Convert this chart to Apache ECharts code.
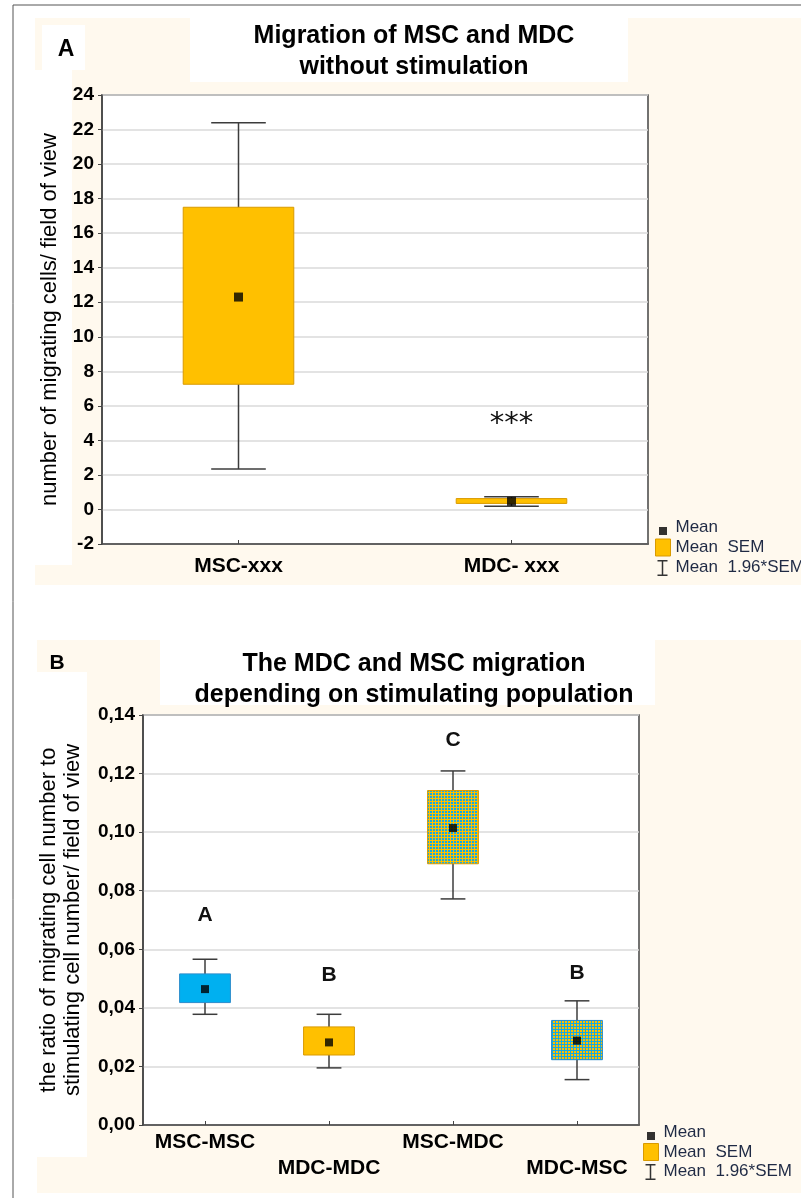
<!DOCTYPE html>
<html><head><meta charset="utf-8">
<script src="https://cdn.jsdelivr.net/npm/echarts@6/dist/echarts.min.js"></script>
<style>html,body{margin:0;padding:0;background:#fff}#c{width:801px;height:1198px}</style>
</head><body><div id="c"></div>
<script>
// ---------- Panel A data ----------
const categoriesA = ['MSC-xxx', 'MDC- xxx'];
const meanA    = [12.3, 0.47];
const semLowA  = [7.25, 0.35];
const semHighA = [17.5, 0.63];
const ciLowA   = [2.35, 0.18];
const ciHighA  = [22.4, 0.73];
const yMinA = -2, yMaxA = 24, yStepA = 2;
const starCatA = [1.025];
const starYA = [4.9];
const starTextA = ['***'];

// ---------- Panel B data ----------
const categoriesB = ['MSC-MSC', 'MDC-MDC', 'MSC-MDC', 'MDC-MSC'];
const meanB    = [0.0464, 0.0282, 0.1014, 0.0288];
const semLowB  = [0.0418, 0.0239, 0.0892, 0.0223];
const semHighB = [0.0516, 0.0335, 0.1142, 0.0357];
const ciLowB   = [0.0378, 0.0195, 0.0772, 0.0155];
const ciHighB  = [0.0566, 0.0378, 0.1209, 0.0424];
const yMinB = 0, yMaxB = 0.14, yStepB = 0.02;
const lettersB = ['A', 'B', 'C', 'B'];
const letterYB = [0.0717, 0.0512, 0.1314, 0.0519];

const legendNames = ['Mean', 'Mean  SEM', 'Mean  1.96*SEM'];

// ---------- styles ----------
const ORANGE = '#FFC000', ORANGE_EDGE = '#D99A00';
const BLUE = '#00B0F0', BLUE_EDGE = '#2B8CCB';
const CREAM = '#FFF9EE';
function makePattern(bg, fg) {
  const c = document.createElement('canvas'); c.width = 3; c.height = 3;
  const g = c.getContext('2d'); g.fillStyle = bg; g.fillRect(0, 0, 3, 3);
  g.fillStyle = fg; g.fillRect(1, 1, 2, 2);
  return {image: c, repeat: 'repeat'};
}
const fillsA = [ORANGE, ORANGE];
const edgesA = [ORANGE_EDGE, ORANGE_EDGE];
const fillsB = [BLUE, ORANGE, makePattern(ORANGE, '#19A9DE'), makePattern('#19A9DE', ORANGE)];
const edgesB = [BLUE_EDGE, ORANGE_EDGE, ORANGE_EDGE, BLUE_EDGE];

function boxRenderer(fills, edges, ratio) {
  return function (params, api) {
    const i = api.value(0);
    const top = api.coord([i, api.value(2)]);
    const bot = api.coord([i, api.value(1)]);
    const w = api.size([1, 0])[0] * ratio;
    return {type: 'rect', shape: {x: top[0] - w / 2, y: top[1], width: w, height: Math.max(bot[1] - top[1], 1)},
      style: {fill: fills[params.dataIndex], stroke: edges[params.dataIndex], lineWidth: 1}};
  };
}
function whiskerRenderer(ratio) {
  return function (params, api) {
    const i = api.value(0);
    const hi = api.coord([i, api.value(2)]);
    const lo = api.coord([i, api.value(1)]);
    const w = api.size([1, 0])[0] * ratio;
    const st = {stroke: '#3c3c3c', lineWidth: 1.5};
    return {type: 'group', children: [
      {type: 'line', shape: {x1: hi[0], y1: hi[1], x2: lo[0], y2: lo[1]}, style: st},
      {type: 'line', shape: {x1: hi[0] - w / 2, y1: hi[1], x2: hi[0] + w / 2, y2: hi[1]}, style: st},
      {type: 'line', shape: {x1: lo[0] - w / 2, y1: lo[1], x2: lo[0] + w / 2, y2: lo[1]}, style: st}
    ]};
  };
}
function textRenderer(texts, font) {
  return function (params, api) {
    const p = api.coord([api.value(0), api.value(1)]);
    return {type: 'text', x: p[0], y: p[1], style: {text: texts[params.dataIndex], font: font, fill: '#111', align: 'center', verticalAlign: 'middle'}};
  };
}

const FONT = "'Liberation Sans', Arial, sans-serif";
const meanIcon = 'path://M0,0M15,17M3.5,8h8v8h-8Z';
const ciIcon = 'path://M0,0M15,17M2,1h10v1.5h-4.25v13h4.25v1.5h-10v-1.5h4.25v-13h-4.25Z';
function legendData() {
  return [
    {name: legendNames[0], icon: meanIcon, itemStyle: {color: '#000'}},
    {name: legendNames[1], icon: 'rect', itemStyle: {color: ORANGE, borderColor: ORANGE_EDGE, borderWidth: 1}},
    {name: legendNames[2], icon: ciIcon, itemStyle: {color: '#333'}}
  ];
}
function yAxisCommon(min, max, step, fmt) {
  return {type: 'value', min: min, max: max, interval: step,
    axisLine: {show: true, lineStyle: {color: '#444', width: 1.5}},
    axisTick: {show: true, inside: false, length: 4, lineStyle: {color: '#444'}},
    splitLine: {show: true, lineStyle: {color: '#DADADA', width: 1.5}},
    axisLabel: {fontFamily: FONT, fontWeight: 'bold', fontSize: 19, color: '#000', margin: 8, formatter: fmt},
    nameLocation: 'middle', nameRotate: 90,
    nameTextStyle: {fontFamily: FONT, fontSize: 22, color: '#000', lineHeight: 24}};
}

const option = {
  animation: false,
  backgroundColor: '#fff',
  graphic: [
    {type: 'line', z: -10, shape: {x1: 13, y1: 5, x2: 13, y2: 1198}, style: {stroke: '#555', lineWidth: 1}},
    {type: 'line', z: -10, shape: {x1: 13, y1: 5, x2: 801, y2: 5}, style: {stroke: '#555', lineWidth: 1}},
    {type: 'rect', z: -10, shape: {x: 35, y: 18, width: 766, height: 567}, style: {fill: CREAM}},
    {type: 'rect', z: -9, shape: {x: 190, y: 18, width: 438, height: 64}, style: {fill: '#fff'}},
    {type: 'rect', z: -9, shape: {x: 42, y: 25, width: 43, height: 45}, style: {fill: '#fff'}},
    {type: 'rect', z: -9, shape: {x: 35, y: 70, width: 37, height: 495}, style: {fill: '#fff'}},
    {type: 'rect', z: -10, shape: {x: 37, y: 640, width: 764, height: 553}, style: {fill: CREAM}},
    {type: 'rect', z: -9, shape: {x: 160, y: 640, width: 495, height: 65}, style: {fill: '#fff'}},
    {type: 'rect', z: -9, shape: {x: 37, y: 672, width: 50, height: 485}, style: {fill: '#fff'}}
  ],
  title: [
    {text: 'Migration of MSC and MDC\nwithout stimulation', left: 409, top: 16, textAlign: 'center',
      textStyle: {fontFamily: FONT, fontSize: 25, fontWeight: 'bold', color: '#000', lineHeight: 31}},
    {text: 'The MDC and MSC migration\ndepending on stimulating population', left: 409, top: 644, textAlign: 'center',
      textStyle: {fontFamily: FONT, fontSize: 25, fontWeight: 'bold', color: '#000', lineHeight: 31}},
    {text: 'A', left: 61, top: 33, textAlign: 'center', textStyle: {fontFamily: FONT, fontSize: 23, fontWeight: 'bold', color: '#000'}},
    {text: 'B', left: 52, top: 648, textAlign: 'center', textStyle: {fontFamily: FONT, fontSize: 21, fontWeight: 'bold', color: '#000'}}
  ],
  legend: [
    {data: legendData(), orient: 'vertical', left: 655, top: 519, itemWidth: 15, itemHeight: 17, itemGap: 2.5, padding: 0,
      selectedMode: false, textStyle: {fontFamily: FONT, fontSize: 17, color: '#1F2A44'}},
    {data: legendData(), orient: 'vertical', left: 643, top: 1124, itemWidth: 15, itemHeight: 17, itemGap: 2, padding: 0,
      selectedMode: false, textStyle: {fontFamily: FONT, fontSize: 17, color: '#1F2A44'}}
  ],
  grid: [
    {left: 102, top: 95, width: 546, height: 449, show: true, backgroundColor: '#fff', borderColor: '#444', borderWidth: 1.5},
    {left: 143, top: 715, width: 496, height: 410, show: true, backgroundColor: '#fff', borderColor: '#444', borderWidth: 1.5}
  ],
  xAxis: [
    {type: 'category', gridIndex: 0, data: categoriesA, boundaryGap: true,
      axisLine: {onZero: false, lineStyle: {color: '#444', width: 1.5}},
      axisTick: {show: true, inside: true, alignWithLabel: true, length: 4, lineStyle: {color: '#444'}},
      axisLabel: {fontFamily: FONT, fontWeight: 'bold', fontSize: 21, color: '#000', margin: 10, lineHeight: 24}},
    {type: 'category', gridIndex: 1, data: categoriesB, boundaryGap: true,
      axisLine: {onZero: false, lineStyle: {color: '#444', width: 1.5}},
      axisTick: {show: true, inside: true, alignWithLabel: true, length: 4, lineStyle: {color: '#444'}},
      axisLabel: {fontFamily: FONT, fontWeight: 'bold', fontSize: 21, color: '#000', margin: 4, lineHeight: 26, interval: 0,
        formatter: function (v, i) { return i % 2 ? '\n' + v : v; }}}
  ],
  yAxis: [
    Object.assign(yAxisCommon(yMinA, yMaxA, yStepA, function (v) { return String(v); }),
      {gridIndex: 0, name: 'number of migrating cells/ field of view', nameGap: 30}),
    Object.assign(yAxisCommon(yMinB, yMaxB, yStepB, function (v) { return v.toFixed(2).replace('.', ','); }),
      {gridIndex: 1, name: 'the ratio of migrating cell number to\nstimulating cell number/ field of view', nameGap: 58})
  ],
  series: [
    {name: legendNames[2], type: 'custom', xAxisIndex: 0, yAxisIndex: 0, z: 2,
      renderItem: whiskerRenderer(0.2), encode: {x: 0, y: [1, 2]},
      itemStyle: {color: '#333'},
      data: categoriesA.map(function (c, i) { return [i, ciLowA[i], ciHighA[i]]; })},
    {name: legendNames[1], type: 'custom', xAxisIndex: 0, yAxisIndex: 0, z: 3,
      renderItem: boxRenderer(fillsA, edgesA, 0.405), encode: {x: 0, y: [1, 2]},
      itemStyle: {color: ORANGE},
      data: categoriesA.map(function (c, i) { return [i, semLowA[i], semHighA[i]]; })},
    {name: legendNames[0], type: 'scatter', xAxisIndex: 0, yAxisIndex: 0, z: 4,
      symbol: 'rect', symbolSize: 9, itemStyle: {color: '#000'},
      data: categoriesA.map(function (c, i) { return [i, meanA[i]]; })},
    {type: 'custom', xAxisIndex: 0, yAxisIndex: 0, z: 5,
      renderItem: textRenderer(starTextA, "29px 'DejaVu Sans', sans-serif"), encode: {x: 0, y: 1},
      data: starCatA.map(function (c, i) { return [c, starYA[i]]; })},

    {name: legendNames[2], type: 'custom', xAxisIndex: 1, yAxisIndex: 1, z: 2,
      renderItem: whiskerRenderer(0.2), encode: {x: 0, y: [1, 2]},
      itemStyle: {color: '#333'},
      data: categoriesB.map(function (c, i) { return [i, ciLowB[i], ciHighB[i]]; })},
    {name: legendNames[1], type: 'custom', xAxisIndex: 1, yAxisIndex: 1, z: 3,
      renderItem: boxRenderer(fillsB, edgesB, 0.41), encode: {x: 0, y: [1, 2]},
      itemStyle: {color: ORANGE},
      data: categoriesB.map(function (c, i) { return [i, semLowB[i], semHighB[i]]; })},
    {name: legendNames[0], type: 'scatter', xAxisIndex: 1, yAxisIndex: 1, z: 4,
      symbol: 'rect', symbolSize: 8, itemStyle: {color: '#000'},
      data: categoriesB.map(function (c, i) { return [i, meanB[i]]; })},
    {type: 'custom', xAxisIndex: 1, yAxisIndex: 1, z: 5,
      renderItem: textRenderer(lettersB, "bold 21px 'Liberation Sans', Arial, sans-serif"), encode: {x: 0, y: 1},
      data: categoriesB.map(function (c, i) { return [i, letterYB[i]]; })}
  ]
};
const chart = echarts.init(document.getElementById('c'), null, {renderer: 'canvas'});
chart.setOption(option);
</script>
</body></html>
